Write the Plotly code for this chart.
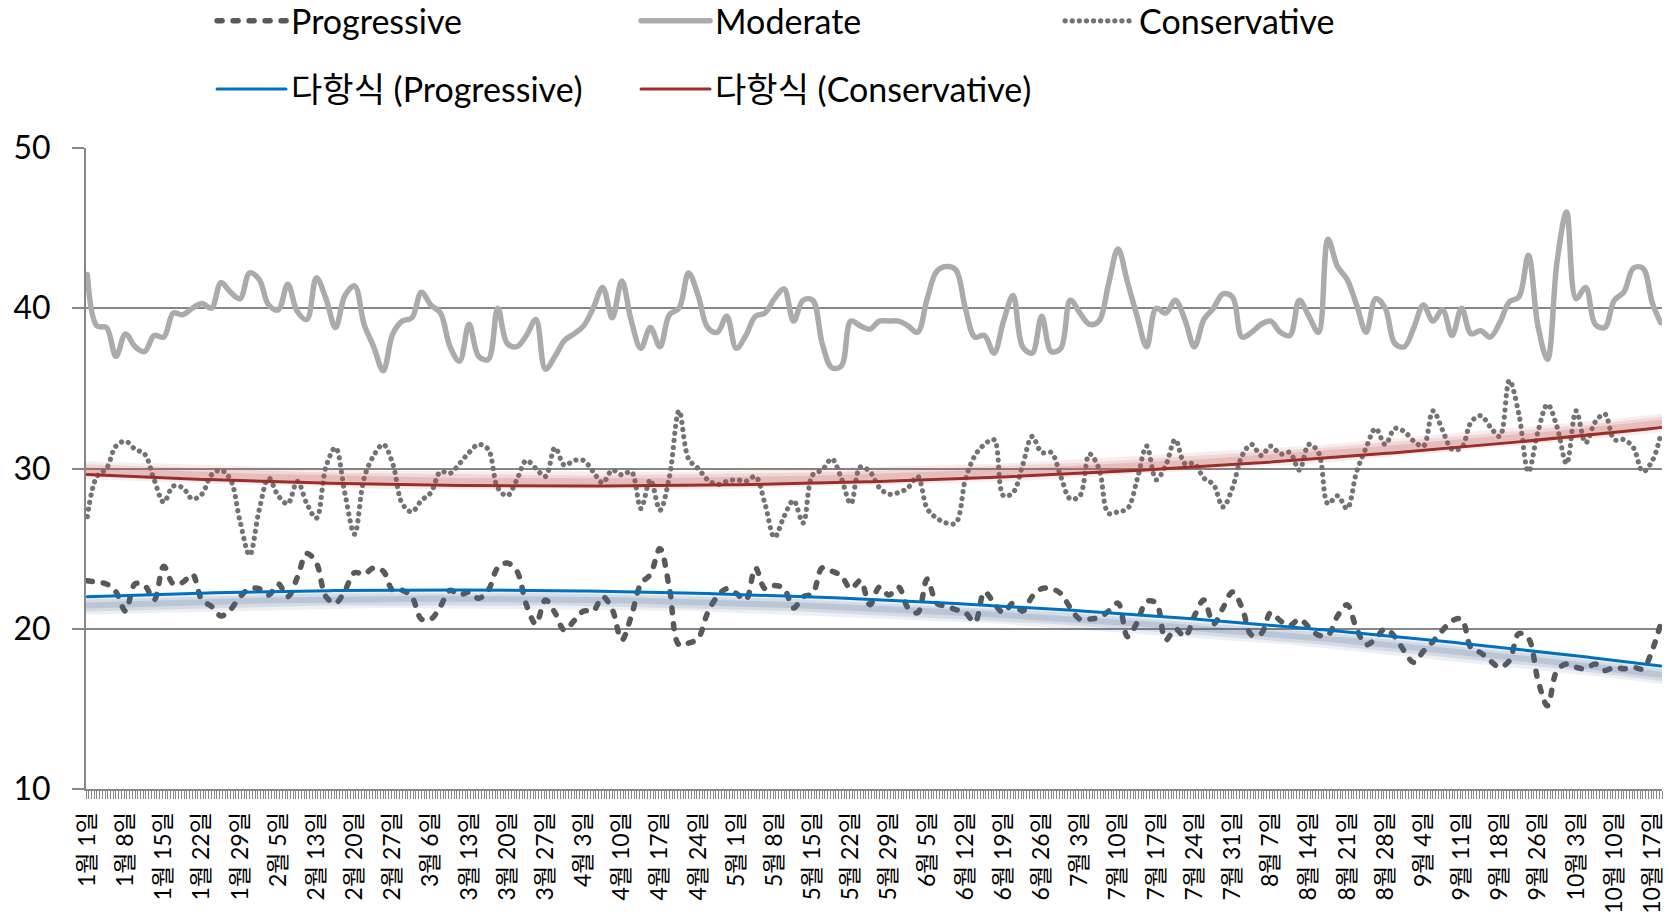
import numpy as np
import plotly.graph_objects as go

# ---------------- data ----------------
tick_labels = ["1월 1일", "1월 8일", "1월 15일", "1월 22일", "1월 29일", "2월 5일", "2월 13일",
               "2월 20일", "2월 27일", "3월 6일", "3월 13일", "3월 20일", "3월 27일", "4월 3일",
               "4월 10일", "4월 17일", "4월 24일", "5월 1일", "5월 8일", "5월 15일", "5월 22일",
               "5월 29일", "6월 5일", "6월 12일", "6월 19일", "6월 26일", "7월 3일", "7월 10일",
               "7월 17일", "7월 24일", "7월 31일", "8월 7일", "8월 14일", "8월 21일", "8월 28일",
               "9월 4일", "9월 11일", "9월 18일", "9월 26일", "10월 3일", "10월 10일", "10월 17일"]

N_CATEGORIES = 578          # category slots on the x axis
LABEL_EVERY = 14            # one date label every 14 categories
SAMPLE_EVERY = 3.5          # values below are read every 3.5 categories

progressive = [
    23.0, 22.9, 22.8, 22.3, 21.1, 22.8, 22.7, 21.8,
    23.9, 22.8, 22.9, 23.4, 21.8, 21.4, 20.8, 21.2,
    22.0, 22.5, 22.5, 22.1, 22.8, 22.0, 23.2, 24.7,
    24.1, 22.0, 21.6, 22.4, 23.5, 23.4, 23.8, 23.6,
    22.4, 22.4, 22.0, 20.6, 20.6, 21.4, 22.4, 22.1,
    22.3, 21.9, 22.4, 23.8, 24.1, 23.6, 21.5, 20.3,
    21.8, 21.0, 19.9, 20.5, 21.1, 21.1, 22.0, 21.2,
    19.3, 20.8, 22.8, 23.4, 25.0, 22.5, 19.0, 19.1,
    19.4, 21.0, 22.0, 22.5, 22.2, 21.8, 23.8, 22.5,
    22.7, 22.5, 21.3, 22.0, 22.2, 23.8, 23.6, 23.3,
    22.5, 23.0, 21.5, 22.6, 22.1, 22.6, 21.3, 21.0,
    23.1, 21.6, 21.4, 21.2, 21.0, 20.4, 22.3, 21.6,
    21.0, 21.6, 21.1, 22.0, 22.5, 22.5, 22.2, 21.3,
    20.6, 20.6, 20.7, 21.1, 21.6, 19.5, 20.4, 21.7,
    21.6, 19.3, 20.0, 19.5, 20.8, 21.8, 20.3, 21.3,
    22.3, 21.3, 19.6, 19.7, 21.0, 20.5, 20.2, 20.6,
    20.1, 19.6, 19.6, 20.8, 21.5, 20.0, 19.0, 19.4,
    20.0, 19.5, 18.6, 17.9, 18.6, 19.2, 19.9, 20.5,
    20.6, 18.8, 18.5, 18.0, 17.6, 18.0, 19.7, 19.4,
    16.8, 15.2, 17.4, 17.8, 17.6, 17.5, 17.8, 17.4,
    17.6, 17.5, 17.6, 17.5, 18.7, 20.3]

moderate = [
    42.1, 38.9, 38.8, 37.0, 38.4, 37.6, 37.3, 38.3,
    38.2, 39.7, 39.6, 40.0, 40.3, 40.0, 41.6, 41.0,
    40.6, 42.2, 41.8, 40.2, 39.9, 41.5, 39.8, 39.3,
    41.9, 40.6, 38.8, 40.8, 41.4, 39.0, 37.6, 36.1,
    38.4, 39.2, 39.4, 41.0, 40.2, 39.7, 37.6, 36.7,
    39.0, 37.0, 36.8, 40.0, 37.8, 37.6, 38.3, 39.3,
    36.2, 37.0, 38.0, 38.4, 38.9, 40.0, 41.3, 39.4,
    41.7, 39.2, 37.5, 38.8, 37.6, 39.6, 40.0, 42.2,
    40.8, 38.8, 38.5, 39.5, 37.5, 38.3, 39.5, 39.7,
    40.6, 41.2, 39.2, 40.5, 40.5, 37.8, 36.3, 36.4,
    39.2, 38.9, 38.7, 39.2, 39.2, 39.2, 38.9, 38.5,
    40.6, 42.3, 42.6, 42.4, 40.0, 38.2, 38.3, 37.2,
    39.2, 40.8, 37.6, 37.2, 39.5, 37.3, 37.5, 40.5,
    39.7, 39.0, 39.2, 41.5, 43.7, 41.6, 39.5, 37.6,
    40.0, 39.7, 40.5, 39.3, 37.6, 39.3, 40.0, 40.9,
    40.7, 38.2, 38.5, 39.0, 39.2, 38.5, 38.3, 40.5,
    39.5, 38.5, 44.3, 42.6, 41.8, 40.2, 38.5, 40.6,
    40.0, 37.8, 37.6, 38.8, 40.2, 39.2, 39.9, 38.3,
    40.0, 38.4, 38.6, 38.2, 39.1, 40.4, 40.7, 43.3,
    38.9, 36.8, 42.9, 46.0, 40.6, 41.3, 39.0, 38.8,
    40.5, 41.0, 42.5, 42.5, 40.3, 39.1]

conservative = [
    27.0, 29.5, 30.0, 31.4, 31.7, 31.2, 30.9, 29.3,
    27.9, 28.9, 28.8, 28.1, 28.4, 29.6, 29.9, 29.3,
    26.7, 24.6, 27.4, 29.4, 28.3, 27.8, 29.2, 27.8,
    26.9, 30.1, 31.3, 28.4, 25.9, 29.4, 30.8, 31.5,
    30.3, 27.8, 27.3, 28.0, 28.5, 29.8, 29.7, 30.3,
    31.0, 31.5, 31.2, 28.8, 28.3, 29.3, 30.5, 30.0,
    29.5, 31.3, 30.2, 30.5, 30.5, 29.8, 29.1, 29.9,
    29.6, 29.8, 27.5, 29.3, 27.4, 29.5, 33.6, 30.6,
    30.0, 29.3, 29.0, 29.2, 29.3, 29.2, 29.5, 27.8,
    25.7, 27.0, 28.0, 26.6, 29.6, 29.9, 30.6, 29.4,
    27.8, 30.1, 29.8, 28.8, 28.4, 28.5, 28.8, 29.5,
    27.5, 26.9, 26.6, 26.6, 29.3, 30.8, 31.5, 31.8,
    28.3, 28.5, 30.2, 32.0, 31.0, 31.0, 29.5, 28.1,
    28.3, 30.9, 30.0, 27.2, 27.3, 27.5, 29.3, 31.4,
    29.3, 30.2, 31.8, 30.3, 30.3, 29.4, 29.0, 27.6,
    28.8, 30.8, 31.5, 30.8, 31.4, 30.9, 31.0, 29.9,
    31.5, 31.0, 27.8, 28.3, 27.5, 29.8, 31.3, 32.5,
    31.5, 32.5, 32.3, 31.7, 31.4, 33.6, 32.4, 31.2,
    31.3, 32.9, 33.3, 32.6, 32.0, 35.5, 33.4, 29.8,
    32.3, 34.0, 32.6, 30.3, 33.6, 31.6, 32.9, 33.4,
    31.8, 31.8, 31.3, 29.8, 30.5, 32.1]

# polynomial ("다항식") trend lines at these category positions
trend_knot_pos = [0, 70, 140, 210, 280, 350, 420, 490, 560, 577]
trend_progressive = [22.0, 22.3, 22.45, 22.3, 21.9, 21.2, 20.4, 19.4, 18.1, 17.6]
trend_conservative = [29.6, 29.2, 28.95, 28.9, 29.1, 29.6, 30.3, 31.1, 32.2, 32.6]
POLY_ORDER = 3

# ---------------- derived ----------------
x = np.minimum(np.arange(len(moderate)) * SAMPLE_EVERY, N_CATEGORIES - 1)
tick_pos = np.arange(len(tick_labels)) * LABEL_EVERY
x_fit = np.linspace(0, N_CATEGORIES - 1, 300)

def poly_trend(values):
    coef = np.polyfit(trend_knot_pos, np.asarray(values), POLY_ORDER)
    return np.polyval(coef, x_fit)

trend_prog = poly_trend(trend_progressive)
trend_cons = poly_trend(trend_conservative)

FONT = "Lato, 'Noto Sans CJK KR', sans-serif"
GRID = "#868686"

fig = go.Figure()

fig.add_trace(go.Scatter(x=x, y=moderate, name="Moderate", mode="lines",
                         line=dict(color="#ABABAB", width=5.5, shape="spline", smoothing=1.0),
                         legendrank=2, legend="legend"))
fig.add_trace(go.Scatter(x=x, y=progressive, name="Progressive", mode="lines",
                         line=dict(color="#595959", width=5.5, dash="5px,11px",
                                   shape="spline", smoothing=1.0),
                         legendrank=1, legend="legend"))
fig.add_trace(go.Scatter(x=x, y=conservative, name="Conservative", mode="lines",
                         line=dict(color="#737373", width=5.2, dash="0.1px,7px",
                                   shape="spline", smoothing=1.0),
                         legendrank=3, legend="legend"))

# soft glow under the trend lines
for w, a in [(18, 0.10), (12, 0.14), (6, 0.18)]:
    fig.add_trace(go.Scatter(x=x_fit, y=trend_prog - 0.55, mode="lines", hoverinfo="skip",
                             line=dict(color=f"rgba(70,100,145,{a})", width=w), showlegend=False))
    fig.add_trace(go.Scatter(x=x_fit, y=trend_cons + 0.28, mode="lines", hoverinfo="skip",
                             line=dict(color=f"rgba(190,80,80,{a})", width=w), showlegend=False))

fig.add_trace(go.Scatter(x=x_fit, y=trend_prog, name="다항식 (Progressive)", mode="lines",
                         line=dict(color="#0070C0", width=3), legendrank=4, legend="legend2"))
fig.add_trace(go.Scatter(x=x_fit, y=trend_cons, name="다항식 (Conservative)", mode="lines",
                         line=dict(color="#9B2D2A", width=3), legendrank=5, legend="legend2"))

legend_common = dict(orientation="h", xanchor="left", yanchor="middle", x=0.08,
                     yref="container",
                     entrywidth=340, entrywidthmode="pixels", itemwidth=69,
                     font=dict(family=FONT, size=34, color="black"),
                     bgcolor="rgba(0,0,0,0)", borderwidth=0, traceorder="normal")

fig.update_layout(
    width=1669, height=922,
    margin=dict(l=86, r=7, t=148, b=133, autoexpand=False),
    paper_bgcolor="white", plot_bgcolor="white",
    font=dict(family=FONT, color="black"),
    legend=dict(legend_common, y=0.977),
    legend2=dict(legend_common, y=0.903),
    xaxis=dict(range=[-0.5, N_CATEGORIES - 0.5], tickmode="array", tickvals=tick_pos,
               ticktext=tick_labels, tickangle=-90, ticks="", showgrid=False, zeroline=False,
               showline=True, linecolor=GRID, linewidth=2,
               tickfont=dict(family=FONT, size=23, color="black"), ticklabelstandoff=12,
               minor=dict(ticks="outside", ticklen=8, tickcolor=GRID, tickwidth=1,
                          tick0=-0.5, dtick=1, showgrid=False)),
    yaxis=dict(range=[10, 50], dtick=10, tick0=10, showgrid=True, gridcolor=GRID, gridwidth=2,
               zeroline=False, showline=True, linecolor=GRID, linewidth=2,
               ticks="outside", ticklen=12, tickcolor=GRID, tickwidth=2,
               tickfont=dict(family=FONT, size=32, color="black"), ticklabelstandoff=15),
)

# page tweaks: no default body margin; rounded line ends (dots / rounded dashes like the original)
post = ("document.body.style.margin='0px';"
        "var s=document.createElement('style');"
        "s.innerHTML='path.js-line{stroke-linecap:round;}';"
        "document.head.appendChild(s);")
fig.write_html("out.html", post_script=post, config={"displayModeBar": False})
